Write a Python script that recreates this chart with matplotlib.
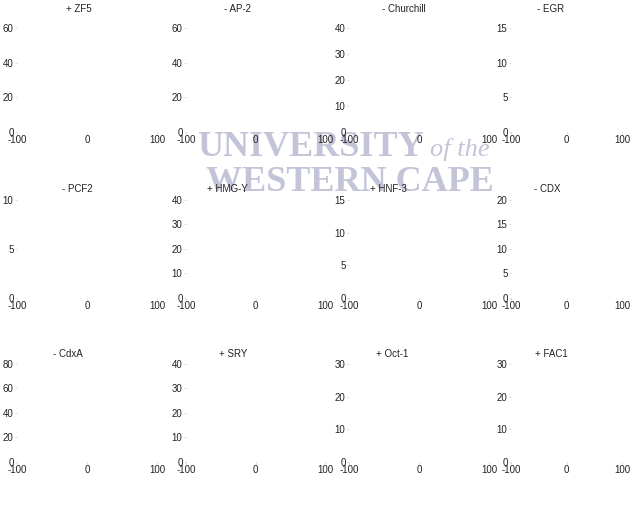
import matplotlib
matplotlib.use('Agg')
import matplotlib.pyplot as plt

# panel titles, row by row
titles = ['+ ZF5', '- AP-2', '- Churchill', '- EGR',
          '- PCF2', '+ HMG-Y', '+ HNF-3', '- CDX',
          '- CdxA', '+ SRY', '+ Oct-1', '+ FAC1']

# y limits / ticks for each panel
y_max = [60, 60, 40, 15,
         10, 40, 15, 20,
         80, 40, 30, 30]
y_step = [20, 20, 10, 5,
          5, 10, 5, 5,
          20, 10, 10, 10]

x_ticks = [-100, 0, 100]

plt.rcParams['font.family'] = ['Liberation Sans', 'DejaVu Sans']
plt.rcParams['axes.unicode_minus'] = False

fig = plt.figure(figsize=(6.33, 5.11), dpi=100)

W = 633.0
lefts = [17 / W, 186 / W, 349 / W, 511 / W]
widths = [140 / W, 139 / W, 140 / W, 111 / W]
bottoms = [0.742, 0.417, 0.096]
heights = [0.203, 0.192, 0.192]
title_y = [1.14, 1.06, 1.05]
# title centres, in axes fraction (scan has them a bit off-centre)
title_x = [0.44, 0.37, 0.39, 0.36,
           0.43, 0.30, 0.28, 0.33,
           0.36, 0.34, 0.31, 0.36]

# faint watermark of the original scan
wm = dict(family='Liberation Serif', color='#c3c4d8', va='center', zorder=-5)
fig.text(0.49, 0.712, 'UNIVERSITY', fontsize=26, fontweight='bold',
         ha='center', **wm)
fig.text(0.68, 0.708, 'of the', fontsize=19, style='italic', ha='left', **wm)
fig.text(0.553, 0.642, 'WESTERN CAPE', fontsize=26, fontweight='bold',
         ha='center', **wm)

for i, title in enumerate(titles):
    r, c = divmod(i, 4)
    ax = fig.add_axes([lefts[c], bottoms[r], widths[c], heights[r]])
    ax.patch.set_alpha(0)
    ax.set_xlim(-100, 100)
    ax.set_ylim(0, y_max[i])
    ax.set_xticks(x_ticks)
    ax.set_yticks(list(range(0, y_max[i] + 1, y_step[i])))
    for s in ax.spines.values():
        s.set_visible(False)
    ax.tick_params(length=1.5, width=0.5, color='#cccccc', labelsize=7,
                   pad=1, labelcolor='#222222')
    ax.text(title_x[i], title_y[r], title, transform=ax.transAxes, fontsize=7,
            ha='center', va='bottom', color='#222222')

fig.savefig('out.png', dpi=100)
